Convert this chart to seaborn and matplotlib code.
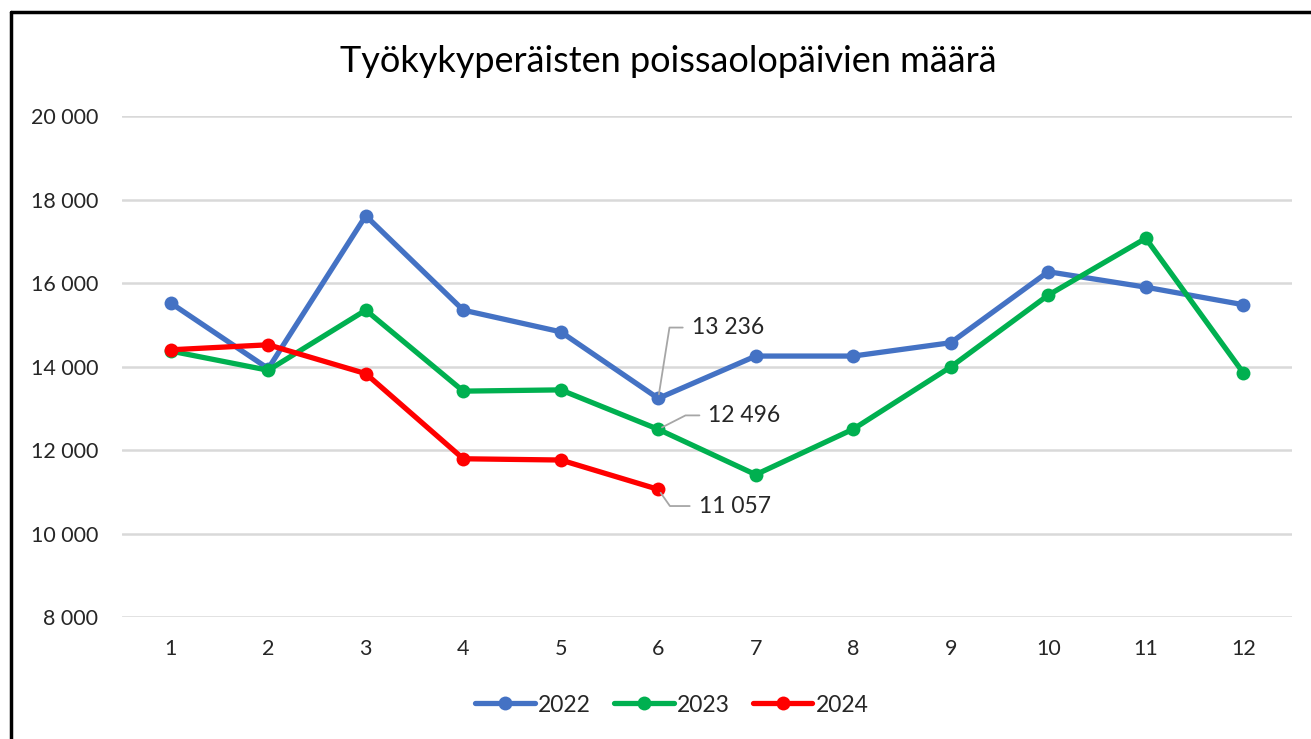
import matplotlib
matplotlib.use("Agg")
import matplotlib.pyplot as plt
from matplotlib.lines import Line2D
import seaborn as sns
import pandas as pd

# Kuukaudet ja poissaolopäivät vuosittain
kuukaudet = list(range(1, 13))
v2022 = [15520, 13950, 17610, 15350, 14830, 13236, 14250, 14250, 14570, 16270, 15900, 15480]
v2023 = [14370, 13910, 15350, 13410, 13440, 12496, 11410, 12500, 13990, 15710, 17070, 13850]
v2024 = [14400, 14520, 13830, 11790, 11760, 11057]
vuodet = ["2022", "2023", "2024"]
varit = ["#4472C4", "#00B050", "#FF0000"]

# Arvot, joille näytetään selite (vuosi, kuukausi, arvo)
selitteet = [("2022", 6, 13236), ("2023", 6, 12496), ("2024", 6, 11057)]

rows = []
for vuosi, arvot in zip(vuodet, [v2022, v2023, v2024]):
    for kk, arvo in zip(kuukaudet, arvot):
        rows.append({"kk": kk, "paivat": arvo, "vuosi": vuosi})
df = pd.DataFrame(rows)

sns.set_style("white")
plt.rcParams["font.family"] = ["Lato", "DejaVu Sans"]

fig = plt.figure(figsize=(13.11, 7.39), dpi=100)
ax = fig.add_axes([122 / 1311, 1 - 617 / 739, 1170 / 1311, 501 / 739])

sns.lineplot(data=df, x="kk", y="paivat", hue="vuosi", hue_order=vuodet,
             palette=varit, marker="o", markersize=10, markeredgewidth=0,
             linewidth=3.8, ax=ax, legend=False)

ax.set_xlim(0.5, 12.5)
ax.set_ylim(8000, 20000)
ax.set_xticks(kuukaudet)
ax.set_yticks(range(8000, 20001, 2000))
ax.set_yticklabels([f"{v:,}".replace(",", " ") for v in range(8000, 20001, 2000)])
ax.tick_params(axis="both", length=0, labelsize=15.5, colors="#262626")
ax.tick_params(axis="y", pad=17)
ax.tick_params(axis="x", pad=16)
ax.set_xlabel("")
ax.set_ylabel("")
ax.grid(axis="y", color="#D9D9D9", linewidth=1.8)
ax.set_axisbelow(True)
for s in ax.spines.values():
    s.set_visible(False)

# Arvoselitteet johdinviivoilla
offsets = {"2022": (24, 51, 81), "2023": (36, 10, 27), "2024": (29, -12, -55)}
for vuosi, kk, arvo in selitteet:
    dx, dy, kulma = offsets[vuosi]
    ax.annotate(f"{arvo:,}".replace(",", " "), xy=(kk, arvo), xytext=(dx, dy),
                textcoords="offset points", ha="left", va="center",
                fontsize=16.5, color="#262626",
                arrowprops=dict(arrowstyle="-", color="#A6A6A6", lw=1.3,
                                shrinkA=4, shrinkB=3, relpos=(0, 0.5),
                                connectionstyle=f"angle,angleA=0,angleB={kulma},rad=0"))

fig.text(668 / 1311, 1 - 62 / 739, "Työkykyperäisten poissaolopäivien määrä",
         ha="center", va="center", fontsize=26, color="#000000")

handles = [Line2D([], [], color=c, marker="o", markersize=10, markeredgewidth=0,
                  linewidth=3.8) for c in varit]
fig.legend(handles, vuodet, loc="center", bbox_to_anchor=(672 / 1311, 1 - 705 / 739),
           ncol=3, frameon=False, fontsize=16.5, handlelength=2.6,
           handletextpad=0.15, columnspacing=1.0)

# Kaavion reunus (vasen ja ylä)
fig.add_artist(Line2D([11 / 1311, 11 / 1311], [0, 1 - 12 / 739], color="black", linewidth=2.5))
fig.add_artist(Line2D([11 / 1311, 1], [1 - 12 / 739, 1 - 12 / 739], color="black", linewidth=2.5))

fig.savefig("out.png", dpi=100, facecolor="white")
